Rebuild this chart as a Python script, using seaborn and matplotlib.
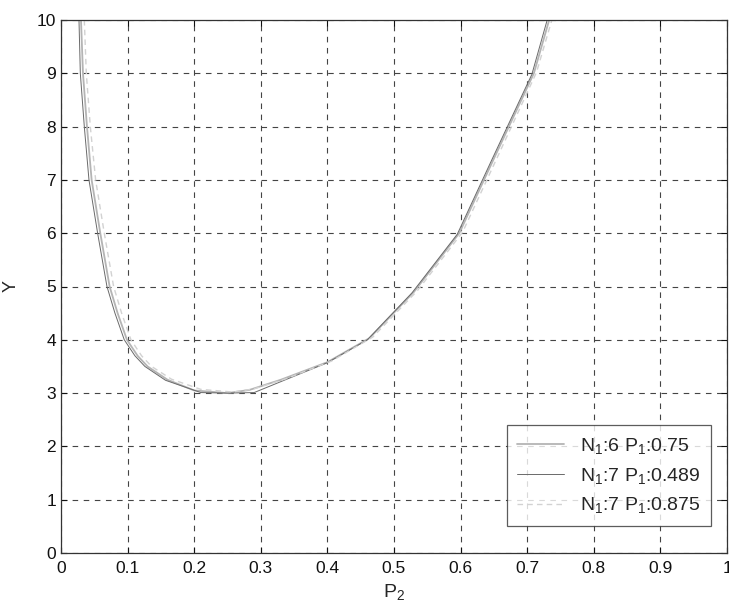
import numpy as np
import pandas as pd
import matplotlib
matplotlib.use("Agg")
import matplotlib.pyplot as plt
import seaborn as sns

# Data
p2_a = [0.030, 0.033, 0.039, 0.046, 0.059, 0.073, 0.085, 0.099, 0.115, 0.130, 0.160,
        0.200, 0.250, 0.283, 0.330, 0.400, 0.463, 0.530, 0.598, 0.650, 0.710, 0.733]
y_a = [10.0, 9.0, 8.0, 7.0, 6.0, 5.0, 4.5, 4.0, 3.7, 3.5, 3.25,
       3.05, 3.0, 3.06, 3.25, 3.58, 4.03, 4.9, 6.0, 7.4, 9.0, 10.0]

p2_b = [0.027, 0.029, 0.035, 0.042, 0.055, 0.069, 0.081, 0.095, 0.111, 0.126, 0.157,
        0.210, 0.250, 0.290, 0.335, 0.400, 0.460, 0.527, 0.595, 0.647, 0.707, 0.730]
y_b = [10.0, 9.0, 8.0, 7.0, 6.0, 5.0, 4.5, 4.0, 3.7, 3.5, 3.24,
       3.01, 3.0, 3.01, 3.24, 3.57, 4.0, 4.88, 5.98, 7.38, 8.98, 10.0]

p2_c = [0.035, 0.038, 0.044, 0.052, 0.065, 0.079, 0.091, 0.105, 0.121, 0.136, 0.166,
        0.210, 0.258, 0.290, 0.338, 0.406, 0.468, 0.535, 0.603, 0.655, 0.714, 0.737]
y_c = [10.0, 9.0, 8.0, 7.0, 6.0, 5.0, 4.5, 4.0, 3.7, 3.5, 3.26,
       3.07, 3.02, 3.08, 3.27, 3.6, 4.05, 4.92, 6.02, 7.42, 9.02, 10.0]

labels = [r"N$_1$:6 P$_1$:0.75", r"N$_1$:7 P$_1$:0.489", r"N$_1$:7 P$_1$:0.875"]
x_ticks = [0, 0.1, 0.2, 0.3, 0.4, 0.5, 0.6, 0.7, 0.8, 0.9, 1.0]
x_tick_labels = ["0", "0.1", "0.2", "0.3", "0.4", "0.5", "0.6", "0.7", "0.8", "0.9", "1"]
y_ticks = list(range(0, 11))

sns.set_theme(style="white")
plt.rcParams["font.family"] = ["Liberation Sans", "DejaVu Sans"]
plt.rcParams["mathtext.fontset"] = "custom"
plt.rcParams["mathtext.rm"] = "Liberation Sans"
plt.rcParams["mathtext.it"] = "Liberation Sans"
plt.rcParams["mathtext.bf"] = "Liberation Sans:bold"

fig = plt.figure(figsize=(7.29, 6.11), dpi=100)
ax = fig.add_axes([61 / 729, 1 - 553 / 611, 666 / 729, 533 / 611])

df_a = pd.DataFrame({"P2": p2_a, "Y": y_a})
df_b = pd.DataFrame({"P2": p2_b, "Y": y_b})
df_c = pd.DataFrame({"P2": p2_c, "Y": y_c})

sns.lineplot(data=df_a, x="P2", y="Y", sort=False, estimator=None, ax=ax,
             color="#b4b4b4", linewidth=1.3, label=labels[0])
sns.lineplot(data=df_b, x="P2", y="Y", sort=False, estimator=None, ax=ax,
             color="#6a6a6a", linewidth=0.7, label=labels[1])
sns.lineplot(data=df_c, x="P2", y="Y", sort=False, estimator=None, ax=ax,
             color="#d2d2d2", linewidth=1.0, linestyle=(0, (4, 3)), label=labels[2])

ax.set_xlim(0, 1)
ax.set_ylim(0, 10)
ax.set_xticks(x_ticks)
ax.set_xticklabels(x_tick_labels)
ax.set_yticks(y_ticks)
ax.tick_params(direction="in", length=4, width=0.8, labelsize=12.5, colors="#111111",
               top=True, right=True, bottom=True, left=True)
ax.tick_params(axis="x", pad=6)
ax.grid(True, color="#444444", linestyle=(0, (5, 5)), linewidth=0.8)
for s in ax.spines.values():
    s.set_visible(True)
    s.set_color("#333333")
    s.set_linewidth(0.9)

ax.set_xlabel(r"P$_2$", fontsize=14, labelpad=4)
ax.set_ylabel("Y", fontsize=13, labelpad=12)

leg = ax.legend(loc="lower right", bbox_to_anchor=(650 / 666, 27 / 533),
                borderaxespad=0, fontsize=14, frameon=True, fancybox=False,
                handlelength=2.4, handletextpad=0.8, labelspacing=0.5,
                borderpad=0.55)
leg.get_frame().set_edgecolor("#333333")
leg.get_frame().set_linewidth(0.9)

fig.savefig("out.png", dpi=100)
